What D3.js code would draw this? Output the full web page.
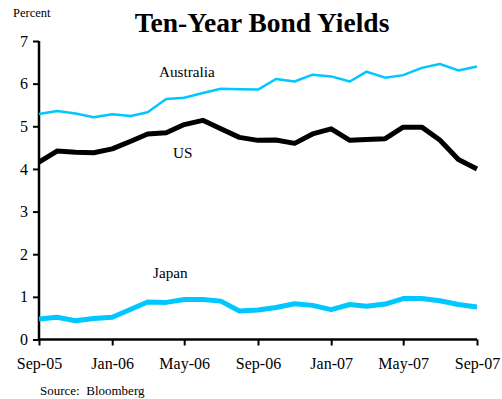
<!DOCTYPE html>
<html>
<head>
<meta charset="utf-8">
<script src="https://cdn.jsdelivr.net/npm/d3@7"></script>
<style>
  html, body { margin: 0; padding: 0; background: #fff; }
  svg text { font-family: "Liberation Serif", "Times New Roman", serif; fill: #000; }
</style>
</head>
<body>
<svg id="chart" width="502" height="399"></svg>
<script>
// Monthly ten-year government bond yields, Sep-2005 to Sep-2007 (%)
const months = d3.range(25).map(i => new Date(2005, 8 + i, 1));
const australia = [5.29, 5.36, 5.30, 5.21, 5.28, 5.24, 5.33, 5.64, 5.67, 5.78, 5.88, 5.87, 5.86,
                   6.11, 6.05, 6.21, 6.17, 6.05, 6.28, 6.14, 6.20, 6.37, 6.46, 6.31, 6.40];
const us = [4.16, 4.42, 4.39, 4.38, 4.47, 4.65, 4.82, 4.85, 5.04, 5.14, 4.94, 4.74, 4.67,
            4.68, 4.60, 4.82, 4.94, 4.67, 4.69, 4.71, 4.98, 4.98, 4.68, 4.22, 4.00];
const japan = [0.48, 0.52, 0.44, 0.49, 0.52, 0.71, 0.88, 0.87, 0.94, 0.94, 0.90, 0.67, 0.69,
               0.75, 0.84, 0.80, 0.70, 0.82, 0.78, 0.83, 0.96, 0.96, 0.91, 0.82, 0.76];
const yTicks = [0, 1, 2, 3, 4, 5, 6, 7];
const xTickLabels = ["Sep-05", "Jan-06", "May-06", "Sep-06", "Jan-07", "May-07", "Sep-07"];
const xTickDates = xTickLabels.map(s => d3.timeParse("%b-%y")(s));

const svg = d3.select("#chart");
const x = d3.scaleTime().domain([months[0], months[24]]).range([39, 477]);
const y = d3.scaleLinear().domain([0, 7]).range([339.5, 41]);

// Axes
const yAxis = d3.axisLeft(y).tickValues(yTicks).tickSize(6).tickPadding(5).tickFormat(d3.format("d"));
const gy = svg.append("g").attr("transform", "translate(39,0)").call(yAxis);
gy.select(".domain").attr("stroke", "#000").attr("stroke-width", 2.5).attr("d", `M0,${y(0)}V${y(7)}`);
gy.selectAll(".tick line").attr("stroke", "#000").attr("stroke-width", 2);
gy.selectAll(".tick text").attr("font-size", 16).attr("font-family", "Liberation Serif");

const xAxis = d3.axisBottom(x).tickValues(xTickDates).tickSize(6).tickPadding(12)
  .tickFormat((d, i) => xTickLabels[i]);
const gx = svg.append("g").attr("transform", `translate(0,${y(0)})`).call(xAxis);
gx.select(".domain").attr("stroke", "#000").attr("stroke-width", 2.5).attr("d", `M${x(months[0])},0H${x(months[24])}`);
gx.selectAll(".tick line").attr("stroke", "#000").attr("stroke-width", 2);
gx.selectAll(".tick text").attr("font-size", 16).attr("font-family", "Liberation Serif");

// Series lines
const line = d3.line().x((d, i) => x(months[i])).y(d => y(d));
const cyan = "#00C8FF";
svg.append("path").datum(japan).attr("d", line).attr("fill", "none")
  .attr("stroke", cyan).attr("stroke-width", 5).attr("stroke-linejoin", "round");
svg.append("path").datum(australia).attr("d", line).attr("fill", "none")
  .attr("stroke", cyan).attr("stroke-width", 2.5).attr("stroke-linejoin", "round");
svg.append("path").datum(us).attr("d", line).attr("fill", "none")
  .attr("stroke", "#000").attr("stroke-width", 5).attr("stroke-linejoin", "round");

// Text
svg.append("text").attr("x", 262).attr("y", 32).attr("text-anchor", "middle")
  .attr("font-size", 27.5).attr("font-weight", "bold").text("Ten-Year Bond Yields");
svg.append("text").attr("x", 13).attr("y", 17).attr("font-size", 12.5).text("Percent");
svg.append("text").attr("x", 159).attr("y", 77).attr("font-size", 15.2).text("Australia");
svg.append("text").attr("x", 173).attr("y", 158).attr("font-size", 15.2).text("US");
svg.append("text").attr("x", 153).attr("y", 278).attr("font-size", 15.2).text("Japan");
svg.append("text").attr("x", 40).attr("y", 395).attr("font-size", 13).attr("xml:space", "preserve")
  .text("Source:  Bloomberg");
</script>
</body>
</html>
